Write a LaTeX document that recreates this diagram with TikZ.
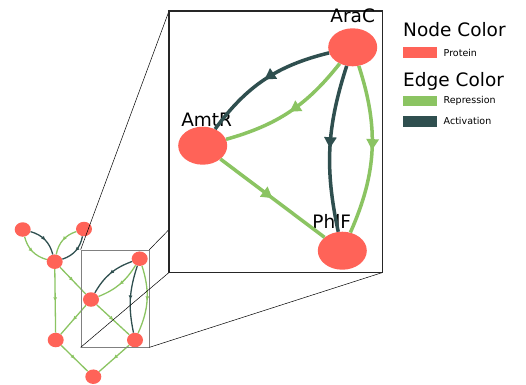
\documentclass[tikz,border=0pt]{standalone}
\usepackage{fontspec}
\setmainfont{DejaVu Sans}
\usetikzlibrary{positioning}
\usetikzlibrary{shapes.geometric}
\usetikzlibrary{decorations.markings}
\usetikzlibrary{arrows.meta}

\definecolor{protred}{RGB}{255,99,88}
\definecolor{repgreen}{RGB}{139,196,98}
\definecolor{actgray}{RGB}{47,79,79}

\tikzset{
  prot/.style={ellipse, fill=protred, inner sep=0pt},
  bigprot/.style={prot, minimum width=49pt, minimum height=38pt},
  smallprot/.style={prot, minimum width=16pt, minimum height=14.5pt},
  bigedge/.style={line width=3.5pt, postaction={decorate},
    decoration={markings, mark=at position 0.5 with {\arrow{Triangle[length=11pt,width=12pt]}}}},
  smalledge/.style={line width=1.3pt, postaction={decorate},
    decoration={markings, mark=at position 0.5 with {\arrow{Triangle[length=3.5pt,width=3.5pt]}}}},
  bigrep/.style={bigedge, color=repgreen},
  bigact/.style={bigedge, color=actgray},
  smallrep/.style={smalledge, color=repgreen},
  smallact/.style={smalledge, color=actgray},
  protlbl/.style={font=\fontsize{18.5}{20}\selectfont, inner sep=0pt, anchor=base},
  legtitle/.style={font=\fontsize{18.5}{20}\selectfont, inner sep=0pt, anchor=base west},
  legtext/.style={font=\fontsize{9.5}{11}\selectfont, inner sep=0pt},
  swatch/.style={minimum width=34pt, minimum height=10.5pt, inner sep=0pt},
  zoomline/.style={black, line width=0.5pt},
}

\begin{document}
\begin{tikzpicture}[x=1pt, y=-1pt]
\useasboundingbox (0,0) rectangle (526,384);

% whole network
\node[smallprot] (n1) at (22.7,229.5) {};
\node[smallprot] (n2) at (84,229) {};
\node[smallprot] (n3) at (54.7,261.7) {};
\node[smallprot] (n4) at (139.7,258.7) {};
\node[smallprot] (n5) at (91,299.5) {};
\node[smallprot] (n6) at (55.7,340) {};
\node[smallprot] (n7) at (135,340) {};
\node[smallprot] (n8) at (93.3,376.7) {};

\draw[smallact] (n1) to[bend left=30] (n3);
\draw[smallrep] (n1) to[bend right=30] (n3);
\draw[smallrep] (n2) to[bend right=30] (n3);
\draw[smallact] (n2) to[bend left=30] (n3);
\draw[smallrep] (n3) -- (n5);
\draw[smallrep] (n3) -- (n6);
\draw[smallact] (n4) to[bend right=20] (n5);
\draw[smallrep] (n4) to[bend left=18] (n5);
\draw[smallact] (n4) to[bend right=15] (n7);
\draw[smallrep] (n4) to[bend left=21] (n7);
\draw[smallrep] (n5) -- (n7);
\draw[smallrep] (n5) -- (n6);
\draw[smallrep] (n6) -- (n8);
\draw[smallrep] (n7) -- (n8);

% zoom box and inset
\node[draw=gray, line width=0.7pt, minimum width=68pt, minimum height=97pt, inner sep=0pt] (smallbox) at (115,298.5) {};
\coordinate (bnw) at (169,11);
\coordinate (bse) at (382.5,272.5);
\draw[zoomline] (smallbox.north west) -- (bnw);
\draw[zoomline] (smallbox.north east) -- (bse |- bnw);
\draw[zoomline] (smallbox.south west) -- (bnw |- bse);
\draw[zoomline] (smallbox.south east) -- (bse);
\draw[black!85, line width=1.4pt, fill=white] (bnw) rectangle (bse);

\node[bigprot] (arac) at (352.7,47.3) {};
\node[bigprot] (amtr) at (202.7,145.7) {};
\node[bigprot] (phlf) at (342.3,250.7) {};
\node[protlbl] (araclbl) at (352.7,22.7) {AraC};
\node[protlbl] (amtrlbl) at (206.7,126.7) {AmtR};
\node[protlbl] (phlflbl) at (331.7,228.3) {PhlF};

\draw[bigact] (arac) to[bend right=20] (amtr);
\draw[bigrep] (arac) to[bend left=18] (amtr);
\draw[bigact] (arac) to[bend right=15] (phlf);
\draw[bigrep] (arac) to[bend left=21] (phlf);
\draw[bigrep] (amtr) -- (phlf);

% legend
\node[legtitle] (nodetitle) at (403,36.5) {Node Color};
\node[swatch, fill=protred] (protsw) at (420.3,52.5) {};
\node[legtext, right=6pt of protsw] (protlabel) {Protein};
\node[legtitle] (edgetitle) at (403,86) {Edge Color};
\node[swatch, fill=repgreen] (repsw) at (420.3,100.8) {};
\node[legtext, right=6pt of repsw] (replabel) {Repression};
\node[swatch, fill=actgray] (actsw) at (420.3,121.3) {};
\node[legtext, right=6pt of actsw] (actlabel) {Activation};
\end{tikzpicture}
\end{document}
